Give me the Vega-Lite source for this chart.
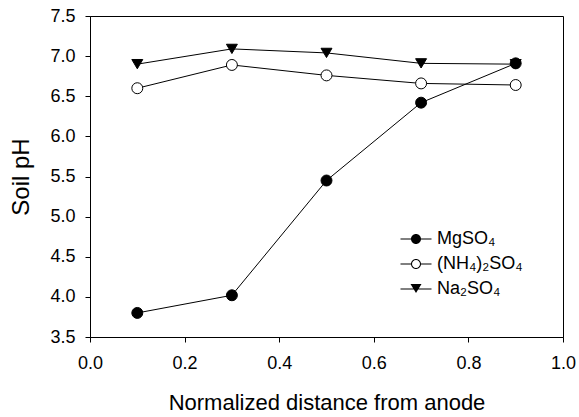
{
  "$schema": "https://vega.github.io/schema/vega-lite/v6.json",
  "width": 473,
  "height": 321,
  "autosize": {"type": "none"},
  "padding": {"left": 90, "top": 16, "right": 16, "bottom": 80},
  "background": "white",
  "config": {
    "view": {"stroke": "black", "strokeWidth": 1},
    "font": "Liberation Sans",
    "axis": {
      "grid": false,
      "domainColor": "black",
      "tickColor": "black",
      "labelColor": "black",
      "titleColor": "black",
      "labelFont": "Liberation Sans",
      "titleFont": "Liberation Sans",
      "labelFontSize": 18,
      "titleFontSize": 22,
      "titleFontWeight": "normal",
      "tickSize": 5,
      "domainWidth": 1,
      "tickWidth": 1,
      "labelFlush": false,
      "labelOverlap": false
    },
    "legend": {
      "orient": "none",
      "legendX": 317,
      "legendY": 214,
      "padding": 0,
      "labelFont": "Liberation Sans",
      "labelFontSize": 18,
      "labelColor": "black",
      "labelOffset": 12,
      "symbolSize": 100,
      "rowPadding": 7,
      "symbolFillColor": "black",
      "symbolStrokeWidth": 0,
      "symbolOpacity": 1
    }
  },
  "data": {
    "values": [
      {"series": "MgSO₄", "x": 0.1, "ph": 3.80},
      {"series": "MgSO₄", "x": 0.3, "ph": 4.02},
      {"series": "MgSO₄", "x": 0.5, "ph": 5.45},
      {"series": "MgSO₄", "x": 0.7, "ph": 6.42},
      {"series": "MgSO₄", "x": 0.9, "ph": 6.91},
      {"series": "(NH₄)₂SO₄", "x": 0.1, "ph": 6.60},
      {"series": "(NH₄)₂SO₄", "x": 0.3, "ph": 6.89},
      {"series": "(NH₄)₂SO₄", "x": 0.5, "ph": 6.76},
      {"series": "(NH₄)₂SO₄", "x": 0.7, "ph": 6.66},
      {"series": "(NH₄)₂SO₄", "x": 0.9, "ph": 6.64},
      {"series": "Na₂SO₄", "x": 0.1, "ph": 6.90},
      {"series": "Na₂SO₄", "x": 0.3, "ph": 7.09},
      {"series": "Na₂SO₄", "x": 0.5, "ph": 7.04},
      {"series": "Na₂SO₄", "x": 0.7, "ph": 6.91},
      {"series": "Na₂SO₄", "x": 0.9, "ph": 6.90}
    ]
  },
  "encoding": {
    "x": {
      "field": "x",
      "type": "quantitative",
      "scale": {"domain": [0, 1], "nice": false},
      "axis": {
        "title": "Normalized distance from anode",
        "values": [0, 0.2, 0.4, 0.6, 0.8, 1.0],
        "format": ".1f",
        "labelPadding": 12,
        "titlePadding": 20
      }
    },
    "y": {
      "field": "ph",
      "type": "quantitative",
      "scale": {"domain": [3.5, 7.5], "nice": false, "zero": false},
      "axis": {
        "title": "Soil pH",
        "titleFontSize": 24,
        "values": [3.5, 4.0, 4.5, 5.0, 5.5, 6.0, 6.5, 7.0, 7.5],
        "format": ".1f",
        "labelPadding": 10,
        "titlePadding": 16
      }
    }
  },
  "layer": [
    {
      "mark": {"type": "line", "color": "black", "strokeWidth": 1},
      "encoding": {"detail": {"field": "series"}}
    },
    {
      "transform": [{"filter": "datum.series === 'MgSO₄'"}],
      "mark": {"type": "point", "shape": "circle", "filled": true, "size": 120, "fill": "black", "stroke": "black", "strokeWidth": 1, "opacity": 1}
    },
    {
      "transform": [{"filter": "datum.series === '(NH₄)₂SO₄'"}],
      "mark": {"type": "point", "shape": "circle", "filled": true, "size": 120, "fill": "white", "stroke": "black", "strokeWidth": 1, "opacity": 1}
    },
    {
      "transform": [{"filter": "datum.series === 'Na₂SO₄'"}],
      "mark": {"type": "point", "shape": "M-1,-0.85L1,-0.85L0,0.85Z", "filled": true, "size": 120, "fill": "black", "stroke": "black", "strokeWidth": 1, "opacity": 1}
    },
    {
      "transform": [{"filter": "datum.ph > 100"}],
      "mark": {"type": "point", "filled": true, "size": 100, "fill": "black", "strokeWidth": 0, "opacity": 1},
      "encoding": {
        "shape": {
          "field": "series",
          "type": "nominal",
          "scale": {
            "domain": ["MgSO₄", "(NH₄)₂SO₄", "Na₂SO₄"],
            "range": [
              "M-3.1,-0.1H3.1V0.1H-3.1ZM-1,0A1,1 0 1,1 1,0A1,1 0 1,1 -1,0Z",
              "M-3.1,-0.1H-0.9V0.1H-3.1ZM0.9,-0.1H3.1V0.1H0.9ZM-1,0A1,1 0 1,1 1,0A1,1 0 1,1 -1,0ZM-0.8,0A0.8,0.8 0 1,0 0.8,0A0.8,0.8 0 1,0 -0.8,0Z",
              "M-3.1,-0.1H3.1V0.1H-3.1ZM-1.1,-1L1.1,-1L0,0.8Z"
            ]
          },
          "legend": {"title": null}
        }
      }
    }
  ]
}
